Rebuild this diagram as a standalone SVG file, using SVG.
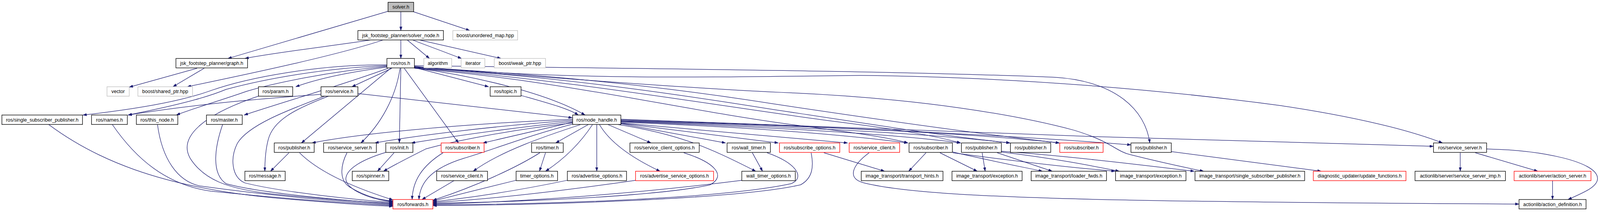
<svg xmlns="http://www.w3.org/2000/svg" width="4247" height="560" viewBox="0 0 4247 560">
<style>
.t{font-family:"Liberation Sans",Arial,sans-serif;font-size:13px;text-anchor:middle;fill:#000}
.n rect{fill:#fff;stroke:#000;stroke-width:1.4}
.r rect{fill:#fff;stroke:#ff0000;stroke-width:1.4}
.x rect{fill:#fff;stroke:#bfbfbf;stroke-width:1.4}
.root rect{fill:#bfbfbf;stroke:#000;stroke-width:1.4}
.edges path{fill:none;stroke:#191970;stroke-width:1.3;marker-end:url(#arr)}
</style>
<defs>
<marker id="arr" viewBox="0 0 10 7" refX="10" refY="3.5" markerWidth="10" markerHeight="7" markerUnits="userSpaceOnUse" orient="auto">
<path d="M0,0 L10,3.5 L0,7 z" fill="#191970" stroke="#191970" stroke-width="0.5"/>
</marker>
</defs>
<rect x="0" y="0" width="4247" height="560" fill="#fff"/>
<g id="diagram" transform="scale(0.96445)">
<g class="edges" id="connectors">
<path d="M1030,30 L605,155"/>
<path d="M1064,31 L1064,81"/>
<path d="M1097,31 L1247,81"/>
<path d="M985,106 C880,122 740,138 650,155"/>
<path d="M1017,106 C900,145 680,192 497,230"/>
<path d="M1064,106 L1064,155"/>
<path d="M1081,106 L1140,155"/>
<path d="M1095,106 L1225,155"/>
<path d="M1113,106 L1330,155"/>
<path d="M523,181 L343,231"/>
<path d="M542,181 L459,230"/>
<path d="M1027,172 C850,170 660,205 560,240 C500,262 400,285 220,305"/>
<path d="M1027,174 C860,180 700,210 600,237 C540,262 450,283 340,305"/>
<path d="M1027,176 C870,190 720,222 655,242 C590,265 520,285 468,305"/>
<path d="M1027,178 C920,192 840,210 785,230"/>
<path d="M1030,181 C900,228 760,268 648,305"/>
<path d="M1040,181 L934,230"/>
<path d="M1037,181 L800,379"/>
<path d="M1062,181 C1050,260 1010,330 958,379"/>
<path d="M1064,181 L1060,379"/>
<path d="M1073,181 L1217,379"/>
<path d="M1100,179 L1297,230"/>
<path d="M1100,180 C1250,200 1450,245 1553,305"/>
<path d="M1100,174 C1700,182 2400,188 2800,205 C2960,215 3040,290 3052,379"/>
<path d="M1100,176 C1500,214 1900,204 2284,200 C2700,204 3100,240 3400,280 C3600,310 3740,345 3829,379"/>
<path d="M1100,177 C1500,210 1900,238 2100,246 C2450,262 2700,305 2850,345 C2950,375 2960,400 3000,410 C3080,430 3150,445 3195,454"/>
<path d="M1100,178 C1500,200 1800,235 2050,275 C2350,320 2600,355 2812,379"/>
<path d="M1100,179 C1500,205 1800,250 2050,290 C2350,335 2500,360 2681,379"/>
<path d="M1100,180 C1500,210 1900,280 2200,320 C2400,345 2480,360 2550,379"/>
<path d="M1100,181 C1500,215 1800,290 2100,330 C2250,350 2350,362 2410,379"/>
<path d="M950,248 L1519,312"/>
<path d="M852,250 C750,258 560,270 340,305"/>
<path d="M872,255 C780,290 725,320 712,370 C704,400 703,430 703,454"/>
<path d="M862,255 C770,290 660,330 630,380 C610,420 615,470 650,485 C750,510 950,530 1043,537"/>
<path d="M1383,253 C1450,272 1510,288 1535,305"/>
<path d="M129,330 C250,420 420,495 720,524 C880,538 980,545 1043,547"/>
<path d="M298,330 C360,420 440,490 560,507 C780,530 950,540 1043,545"/>
<path d="M418,330 C430,420 470,480 530,493 C760,525 950,537 1043,543"/>
<path d="M591,330 C570,390 560,460 600,487 C700,515 950,534 1043,541"/>
<path d="M686,255 C550,300 470,360 505,420 C540,475 600,500 720,514 C850,527 960,535 1043,539"/>
<path d="M767,405 L718,454"/>
<path d="M795,405 C830,440 900,485 1043,530"/>
<path d="M921,405 C903,440 900,480 930,497 C965,518 1005,530 1043,533"/>
<path d="M1024,404 C955,425 918,450 918,475 C920,505 990,530 1043,535"/>
<path d="M1046,405 L1002,454"/>
<path d="M1176,405 C1120,440 1095,480 1094,529"/>
<path d="M1648,316 C2000,330 2600,350 2900,362 C3300,375 3600,382 3805,388"/>
<path d="M1648,318 C2200,335 2700,360 3002,384"/>
<path d="M1648,320 C2200,335 2600,355 2812,379"/>
<path d="M1648,321 C2100,336 2450,352 2681,379"/>
<path d="M1648,322 C2000,336 2350,352 2550,379"/>
<path d="M1648,324 C1950,336 2200,352 2410,379"/>
<path d="M1648,326 L2250,379"/>
<path d="M1648,327 L2066,379"/>
<path d="M1648,328 L1926,379"/>
<path d="M1613,330 L1728,379"/>
<path d="M1640,330 C1800,355 1880,390 2006,454"/>
<path d="M1591,330 C1620,380 1680,420 1752,454"/>
<path d="M1584,330 L1584,454"/>
<path d="M1573,330 C1540,380 1500,420 1448,454"/>
<path d="M1562,330 L1475,379"/>
<path d="M1542,330 C1450,360 1330,400 1256,454"/>
<path d="M1520,329 C1400,360 1300,400 1230,420 C1150,445 1115,480 1112,529"/>
<path d="M1520,326 C1350,345 1200,375 1130,395 C1090,415 1050,435 1018,454"/>
<path d="M1520,322 C1350,340 1200,362 1092,379"/>
<path d="M1520,324 L1282,379"/>
<path d="M1520,319 C1300,335 1100,360 995,379"/>
<path d="M1520,316 C1200,330 950,355 828,379"/>
<path d="M1448,405 L1432,454"/>
<path d="M1433,405 C1370,445 1260,495 1149,531"/>
<path d="M1205,479 L1120,529"/>
<path d="M1370,478 C1300,495 1220,515 1149,533"/>
<path d="M1506,478 C1400,500 1270,522 1149,535"/>
<path d="M1687,478 C1500,505 1300,528 1149,537"/>
<path d="M1815,405 C1895,430 1930,465 1885,490 C1750,520 1400,535 1149,539"/>
<path d="M1969,478 C1700,512 1400,535 1149,541"/>
<path d="M1997,405 L2024,454"/>
<path d="M2036,405 C2110,430 2140,470 2100,487 C1900,530 1400,542 1149,543"/>
<path d="M2153,405 C2160,440 2158,472 2125,490 C1950,530 1400,544 1149,545"/>
<path d="M2187,405 L2348,454"/>
<path d="M2307,405 C2260,440 2250,472 2290,484 C2450,525 2900,535 4032,541"/>
<path d="M2458,405 L2412,454"/>
<path d="M2495,405 L2594,454"/>
<path d="M2529,403 C2600,420 2700,440 2767,454"/>
<path d="M2529,405 C2700,428 2850,445 2960,454"/>
<path d="M2607,405 L2615,454"/>
<path d="M2647,405 L2793,454"/>
<path d="M2657,403 C2800,420 2900,440 2971,454"/>
<path d="M2657,401 C2850,415 3050,440 3170,454"/>
<path d="M3109,402 L3507,454"/>
<path d="M3876,405 L3876,454"/>
<path d="M3916,405 L4082,454"/>
<path d="M3946,395 C4100,398 4235,430 4240,470 C4245,495 4200,512 4162,529"/>
<path d="M4121,479 L4121,529"/>
</g>
<g id="solver_h" class="root"><rect x="1030" y="6" width="68" height="25"/><text class="t" x="1064" y="23">solver.h</text></g>
<g id="solver_node_h" class="n"><rect x="950" y="81" width="227" height="25"/><text class="t" x="1063.5" y="98">jsk_footstep_planner/solver_node.h</text></g>
<g id="unordered_map_hpp" class="x"><rect x="1202" y="81" width="172" height="25"/><text class="t" x="1288" y="98">boost/unordered_map.hpp</text></g>
<g id="graph_h" class="n"><rect x="467" y="155" width="190" height="25"/><text class="t" x="562" y="172">jsk_footstep_planner/graph.h</text></g>
<g id="ros_h" class="n"><rect x="1027" y="155" width="73" height="25"/><text class="t" x="1063.5" y="172">ros/ros.h</text></g>
<g id="algorithm" class="x"><rect x="1125" y="155" width="74" height="25"/><text class="t" x="1162" y="172">algorithm</text></g>
<g id="iterator" class="x"><rect x="1224" y="155" width="63" height="25"/><text class="t" x="1255.5" y="172">iterator</text></g>
<g id="weak_ptr_hpp" class="x"><rect x="1312" y="155" width="136" height="25"/><text class="t" x="1380" y="172">boost/weak_ptr.hpp</text></g>
<g id="vector" class="x"><rect x="284" y="230" width="59" height="25"/><text class="t" x="313.5" y="247">vector</text></g>
<g id="shared_ptr_hpp" class="x"><rect x="366" y="230" width="145" height="25"/><text class="t" x="438.5" y="247">boost/shared_ptr.hpp</text></g>
<g id="param_h" class="n"><rect x="686" y="230" width="91" height="25"/><text class="t" x="731.5" y="247">ros/param.h</text></g>
<g id="service_h" class="n"><rect x="852" y="230" width="98" height="25"/><text class="t" x="901" y="247">ros/service.h</text></g>
<g id="topic_h" class="n"><rect x="1301" y="230" width="82" height="25"/><text class="t" x="1342" y="247">ros/topic.h</text></g>
<g id="single_subscriber_publisher_h" class="n"><rect x="5" y="305" width="214" height="25"/><text class="t" x="112" y="322">ros/single_subscriber_publisher.h</text></g>
<g id="names_h" class="n"><rect x="243" y="305" width="95" height="25"/><text class="t" x="290.5" y="322">ros/names.h</text></g>
<g id="this_node_h" class="n"><rect x="362" y="305" width="110" height="25"/><text class="t" x="417" y="322">ros/this_node.h</text></g>
<g id="master_h" class="n"><rect x="548" y="305" width="95" height="25"/><text class="t" x="595.5" y="322">ros/master.h</text></g>
<g id="node_handle_h" class="n"><rect x="1520" y="305" width="128" height="25"/><text class="t" x="1584" y="322">ros/node_handle.h</text></g>
<g id="publisher_h_1" class="n"><rect x="728" y="379" width="106" height="25"/><text class="t" x="781" y="396">ros/publisher.h</text></g>
<g id="service_server_h_1" class="n"><rect x="859" y="379" width="140" height="25"/><text class="t" x="929" y="396">ros/service_server.h</text></g>
<g id="init_h" class="n"><rect x="1024" y="379" width="72" height="25"/><text class="t" x="1060" y="396">ros/init.h</text></g>
<g id="subscriber_h_1" class="r"><rect x="1171" y="379" width="114" height="25"/><text class="t" x="1228" y="396">ros/subscriber.h</text></g>
<g id="timer_h" class="n"><rect x="1411" y="379" width="84" height="25"/><text class="t" x="1453" y="396">ros/timer.h</text></g>
<g id="service_client_options_h" class="n"><rect x="1672" y="379" width="184" height="25"/><text class="t" x="1764" y="396">ros/service_client_options.h</text></g>
<g id="wall_timer_h" class="n"><rect x="1930" y="379" width="115" height="25"/><text class="t" x="1987.5" y="396">ros/wall_timer.h</text></g>
<g id="subscribe_options_h" class="r"><rect x="2069" y="379" width="160" height="25"/><text class="t" x="2149" y="396">ros/subscribe_options.h</text></g>
<g id="service_client_h_1" class="r"><rect x="2254" y="379" width="134" height="25"/><text class="t" x="2321" y="396">ros/service_client.h</text></g>
<g id="subscriber_h_2" class="n"><rect x="2413" y="379" width="115" height="25"/><text class="t" x="2470.5" y="396">ros/subscriber.h</text></g>
<g id="publisher_h_2" class="n"><rect x="2552" y="379" width="106" height="25"/><text class="t" x="2605" y="396">ros/publisher.h</text></g>
<g id="publisher_h_3" class="n"><rect x="2682" y="379" width="107" height="25"/><text class="t" x="2735.5" y="396">ros/publisher.h</text></g>
<g id="subscriber_h_3" class="r"><rect x="2813" y="379" width="115" height="25"/><text class="t" x="2870.5" y="396">ros/subscriber.h</text></g>
<g id="publisher_h_4" class="n"><rect x="3002" y="379" width="107" height="25"/><text class="t" x="3055.5" y="396">ros/publisher.h</text></g>
<g id="service_server_h_2" class="n"><rect x="3805" y="379" width="141" height="25"/><text class="t" x="3875.5" y="396">ros/service_server.h</text></g>
<g id="message_h" class="n"><rect x="650" y="454" width="107" height="25"/><text class="t" x="703.5" y="471">ros/message.h</text></g>
<g id="spinner_h" class="n"><rect x="935" y="454" width="97" height="25"/><text class="t" x="983.5" y="471">ros/spinner.h</text></g>
<g id="service_client_h_2" class="n"><rect x="1159" y="454" width="135" height="25"/><text class="t" x="1226.5" y="471">ros/service_client.h</text></g>
<g id="timer_options_h" class="n"><rect x="1370" y="454" width="110" height="25"/><text class="t" x="1425" y="471">timer_options.h</text></g>
<g id="advertise_options_h" class="n"><rect x="1506" y="454" width="157" height="25"/><text class="t" x="1584.5" y="471">ros/advertise_options.h</text></g>
<g id="advertise_service_options_h" class="r"><rect x="1687" y="454" width="207" height="25"/><text class="t" x="1790.5" y="471">ros/advertise_service_options.h</text></g>
<g id="wall_timer_options_h" class="n"><rect x="1969" y="454" width="142" height="25"/><text class="t" x="2040" y="471">wall_timer_options.h</text></g>
<g id="transport_hints_h" class="n"><rect x="2286" y="454" width="217" height="25"/><text class="t" x="2394.5" y="471">image_transport/transport_hints.h</text></g>
<g id="exception_h_1" class="n"><rect x="2527" y="454" width="186" height="25"/><text class="t" x="2620" y="471">image_transport/exception.h</text></g>
<g id="loader_fwds_h" class="n"><rect x="2737" y="454" width="200" height="25"/><text class="t" x="2837" y="471">image_transport/loader_fwds.h</text></g>
<g id="exception_h_2" class="n"><rect x="2961" y="454" width="187" height="25"/><text class="t" x="3054.5" y="471">image_transport/exception.h</text></g>
<g id="it_single_subscriber_publisher_h" class="n"><rect x="3172" y="454" width="291" height="25"/><text class="t" x="3317.5" y="471">image_transport/single_subscriber_publisher.h</text></g>
<g id="update_functions_h" class="r"><rect x="3486" y="454" width="246" height="25"/><text class="t" x="3609" y="471">diagnostic_updater/update_functions.h</text></g>
<g id="service_server_imp_h" class="n"><rect x="3756" y="454" width="240" height="25"/><text class="t" x="3876" y="471">actionlib/server/service_server_imp.h</text></g>
<g id="action_server_h" class="r"><rect x="4019" y="454" width="204" height="25"/><text class="t" x="4121" y="471">actionlib/server/action_server.h</text></g>
<g id="forwards_h" class="r"><rect x="1043" y="529" width="106" height="25"/><text class="t" x="1096" y="546">ros/forwards.h</text></g>
<g id="action_definition_h" class="n"><rect x="4032" y="529" width="178" height="25"/><text class="t" x="4121" y="546">actionlib/action_definition.h</text></g>
</g>
</svg>
